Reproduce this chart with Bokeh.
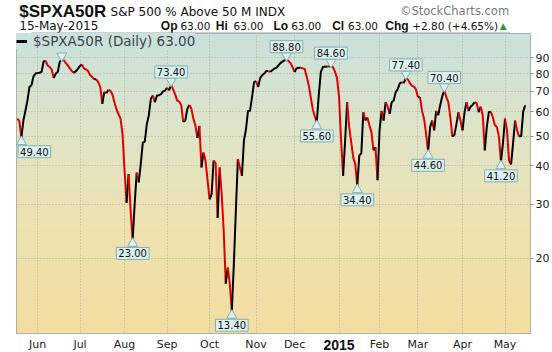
import numpy as np
from bokeh.plotting import figure
from bokeh.layouts import column
from bokeh.models import (FixedTicker, Range1d, BoxAnnotation, Legend, LegendItem,
                          NumeralTickFormatter)
from bokeh.embed import file_html
from bokeh.resources import INLINE
from bokeh.core.properties import value

# ---------------- data ----------------
# daily values of $SPXA50R; trading-day index 0 = 2 Jun 2014, first value is index -10
first_day = -10
pct_above_50 = [
    57, 56, 49.4, 56.2, 60.4, 65.3, 72.3, 73.3, 78.3, 80,
    80.3, 80.5, 81, 87.6, 88, 85, 84, 82.5, 77.3, 80,
    81, 87.6, 88.6, 88.4, 86.5, 85, 83, 81.5, 80.3, 81.5,
    83, 84.8, 85.5, 83, 82.5, 81.5, 79, 78, 76.6, 76.6,
    75, 72.3, 63.7, 69.7, 69, 70.8, 70.3, 68.4, 64.5, 61.2,
    59, 57, 50.8, 38.6, 30.3, 37.6, 28.5, 23.0, 30, 38,
    35.3, 40.5, 47.5, 48, 54.7, 58.5, 66.2, 67.8, 64.5, 67.8,
    68, 68.5, 70, 70.4, 71.8, 70.5, 73.4, 71, 68.4, 65.3,
    64.8, 63.2, 55.6, 56.2, 61.2, 63.2, 61.5, 57, 54.2, 49.3,
    54, 39.5, 44.2, 41.6, 36, 31.1, 32.3, 41.6, 40.8, 27,
    39.5, 32.3, 24.6, 16.5, 18.6, 16.5, 13.4, 19.1, 28.6, 42.1,
    39.5, 37.1, 48.4, 52.6, 60.4, 60.5, 67, 75, 75.5, 72.3,
    77.3, 79, 80, 81.5, 81.5, 81, 82, 83, 83.5, 85,
    86.5, 87.5, 88.3, 88.8, 88, 86.5, 84, 81, 83.2, 83.5,
    83.5, 83.2, 82.8, 78.3, 73.3, 67, 61.2, 58, 55.6, 68.4,
    81, 84, 84.2, 84.4, 84.3, 84.6, 84.0, 81, 77.3, 67,
    48.4, 37.1, 48.4, 64.5, 53.5, 47.8, 42.6, 40.5, 34.4, 43.2,
    44, 59.8, 56.2, 57.5, 54.2, 51.5, 44.9, 46, 35.9, 52.2,
    60.4, 56.2, 64.5, 62.5, 59.1, 64.5, 65.3, 69.7, 71.2, 74.3,
    75, 74.5, 77.4, 76.5, 74.5, 73, 72.5, 71, 67, 67,
    60.4, 57, 50.8, 44.6, 53.5, 56.2, 52.2, 60.4, 58.5, 63.2,
    67.5, 70.4, 67, 64.5, 57.6, 49.8, 50.5, 54.7, 59.8, 56.2,
    52.2, 59.8, 64.5, 60.4, 62.4, 63.2, 64.5, 64.0, 59.8, 62.4,
    58.5, 44.9, 53.5, 59.8, 60, 57.6, 54.2, 53.5, 49.8, 41.2,
    47.5, 57, 52.2, 41.6, 40.4, 47.5, 56.2, 52.2, 49.8, 50, 60.2, 63.0,
]
days = list(range(first_day, first_day + len(pct_above_50)))

month_start_days = [0, 21, 43, 64, 85, 108, 127, 149, 169, 188, 210, 231]
month_labels = ["Jun", "Jul", "Aug", "Sep", "Oct", "Nov", "Dec", "2015", "Feb", "Mar", "Apr", "May"]
y_ticks = [20, 30, 40, 50, 60, 70, 80, 90]

low_marks = [-8, 47, 96, 138, 158, 193, 229]
high_marks = [66, 123, 145, 182, 201]
hidden_high = [12]

# header texts: (text, x, middle y, size, bold, colour, align, font)
SANS, ARIAL = "DejaVu Sans", "Liberation Sans"
header_items = [
    ("$SPXA50R", 3, 10.5, "17px", True, "#111111", "left", ARIAL),
    ("S&P 500 % Above 50 M  INDX", 101, 11, "12px", False, "#111111", "left", SANS),
    ("\u00a9StockCharts.com", 529, 10.5, "11.5px", False, "#7a7a7a", "right", SANS),
    ("15-May-2015", 3, 25.5, "12px", False, "#111111", "left", SANS),
    ("Op", 155, 25, "12px", True, "#111111", "left", ARIAL),
    ("63.00", 176, 25.5, "10.5px", False, "#111111", "left", SANS),
    ("Hi", 214, 25, "12px", True, "#111111", "left", ARIAL),
    ("63.00", 233, 25.5, "10.5px", False, "#111111", "left", SANS),
    ("Lo", 276, 25, "12px", True, "#111111", "left", ARIAL),
    ("63.00", 295, 25.5, "10.5px", False, "#111111", "left", SANS),
    ("Cl", 339, 25, "12px", True, "#111111", "left", ARIAL),
    ("63.00", 356, 25.5, "10.5px", False, "#111111", "left", SANS),
    ("Chg", 396, 25, "12px", True, "#111111", "left", ARIAL),
    ("+2.80 (+4.65%)", 425, 25.5, "10.5px", False, "#111111", "left", SANS),
    ("\u25b2", 519, 25, "9px", False, "#2e9a3a", "left", SANS),
]

# ---------------- layout ----------------
W = 552
HEAD_H, MAIN_H, FOOT_H = 33, 301, 18
FL, FR = 16, 530
Y0, Y1 = 11.34, 108.1
X0, X1 = -10.4, 243.6
PX_PER_DEC = 300 / np.log10(Y1 / Y0)
FRAME_LINE = "#a0a0a0"


def bare(fig):
    fig.outline_line_color = None
    fig.xgrid.visible = False
    fig.ygrid.visible = False
    return fig


# header strip
head = bare(figure(width=W, height=HEAD_H, output_backend="svg", toolbar_location=None,
                   x_range=Range1d(0, W), y_range=Range1d(HEAD_H, 0),
                   x_axis_location=None, y_axis_location=None, min_border=0,
                   background_fill_color="white", border_fill_color="white"))
for txt, x, y, size, bold, col, align, font in header_items:
    head.text([x], [y], text=[txt], text_font=value(font), text_font_size=size,
              text_font_style="bold" if bold else "normal", text_color=col,
              text_align=align, text_baseline="middle")
# top edge of the chart frame
head.segment([FL], [HEAD_H - 0.5], [FR], [HEAD_H - 0.5], line_color=FRAME_LINE, line_width=1)

# main chart
p = figure(width=W, height=MAIN_H, output_backend="svg", toolbar_location=None,
           y_axis_type="log", y_axis_location="right", x_axis_location=None,
           x_range=Range1d(X0, X1), y_range=Range1d(Y0, Y1),
           min_border_left=FL, min_border_right=W - FR, min_border_top=0,
           min_border_bottom=1,
           background_fill_color="#eee0b0", border_fill_color="white")
p.outline_line_color = FRAME_LINE

# gradient background (teal-grey at top to pale wheat at bottom)
stops = [(0.0, (199, 225, 221)), (0.3, (220, 228, 203)), (0.6, (236, 226, 178)), (1.0, (242, 222, 160))]
N = 60
lo, hi = np.log10(Y0), np.log10(Y1)
for k in range(N):
    t = 1 - (k + 0.5) / N
    for j in range(len(stops) - 1):
        if stops[j][0] <= t <= stops[j + 1][0]:
            a, ca = stops[j]; b, cb = stops[j + 1]
            f = (t - a) / (b - a)
            col = tuple(int(round(ca[i] + f * (cb[i] - ca[i]))) for i in range(3))
            break
    p.add_layout(BoxAnnotation(bottom=10 ** (lo + (hi - lo) * k / N),
                               top=10 ** (lo + (hi - lo) * (k + 1) / N),
                               fill_color="#%02x%02x%02x" % col, fill_alpha=1,
                               line_color=None, level="image"))

p.yaxis.ticker = FixedTicker(ticks=y_ticks)
p.yaxis.formatter = NumeralTickFormatter(format="0")
p.yaxis.axis_line_color = None
p.yaxis.major_tick_out = 3
p.yaxis.major_tick_in = 0
p.yaxis.minor_tick_line_color = None
p.yaxis.major_tick_line_color = "#909090"
p.yaxis.major_label_standoff = 2
p.yaxis.major_label_text_font = SANS
p.yaxis.major_label_text_font_size = "11px"
p.yaxis.major_label_text_color = "#222222"

p.xgrid.ticker = FixedTicker(ticks=month_start_days)
p.ygrid.ticker = FixedTicker(ticks=y_ticks)
for g in (p.xgrid, p.ygrid):
    g.grid_line_color = "#a8a898"
    g.grid_line_dash = "1 2"
    g.grid_line_alpha = 0.9

# colour-coded line: black when rising, red when falling
UP, DOWN = "#000000", "#e00000"
xs, ys, cs = [], [], []
cx, cy, cc = [days[0]], [pct_above_50[0]], None
for i in range(1, len(days)):
    c = UP if pct_above_50[i] >= pct_above_50[i - 1] else DOWN
    if cc is None or c == cc:
        cx.append(days[i]); cy.append(pct_above_50[i]); cc = c
    else:
        xs.append(cx); ys.append(cy); cs.append(cc)
        cx, cy, cc = [days[i - 1], days[i]], [pct_above_50[i - 1], pct_above_50[i]], c
xs.append(cx); ys.append(cy); cs.append(cc)
p.multi_line(xs, ys, line_color=cs, line_width=2, line_join="round")

# annotation callouts
BOX_FILL, BOX_LINE = "#dcf2ef", "#86aeb4"
off = 10 ** (4.0 / PX_PER_DEC)
hx = high_marks + hidden_high
p.scatter(hx, [pct_above_50[d - first_day] * off for d in hx],
          marker="inverted_triangle", size=10, fill_color=BOX_FILL, line_color=BOX_LINE)
p.scatter(low_marks, [pct_above_50[d - first_day] / off for d in low_marks],
          marker="triangle", size=10, fill_color=BOX_FILL, line_color=BOX_LINE)
p.text(high_marks, [pct_above_50[d - first_day] for d in high_marks],
       text=["%.2f" % pct_above_50[d - first_day] for d in high_marks],
       anchor="bottom_center", y_offset=-7, padding=2,
       text_font=value(SANS), text_font_size="10px", text_color="#111111",
       background_fill_color=BOX_FILL, border_line_color=BOX_LINE)
p.text(low_marks, [pct_above_50[d - first_day] for d in low_marks],
       text=["%.2f" % pct_above_50[d - first_day] for d in low_marks],
       anchor="top_center", y_offset=8, x_offset=[13 if d < 0 else 0 for d in low_marks],
       padding=2,
       text_font=value(SANS), text_font_size="10px", text_color="#111111",
       background_fill_color=BOX_FILL, border_line_color=BOX_LINE)

# legend (its swatch comes from a hidden black copy of the series)
swatch = p.line(days, pct_above_50, line_color="black", line_width=3, visible=False)
legend = Legend(items=[LegendItem(label=value("$SPXA50R (Daily) %.2f" % pct_above_50[-1]),
                                  renderers=[swatch])],
                location="top_left", margin=0, padding=3, glyph_width=11, glyph_height=14,
                label_height=14, label_standoff=6, spacing=0,
                label_text_font=SANS, label_text_font_size="13.5px",
                background_fill_color="#c9e1dc", background_fill_alpha=1,
                inactive_fill_alpha=0, border_line_color=None)
p.add_layout(legend)

# footer strip with month labels (shares x range)
foot = bare(figure(width=W, height=FOOT_H, output_backend="svg", toolbar_location=None,
                   x_range=p.x_range, y_range=Range1d(FOOT_H, 0),
                   x_axis_location=None, y_axis_location=None,
                   min_border_left=FL, min_border_right=W - FR, min_border_top=0,
                   min_border_bottom=0,
                   background_fill_color="white", border_fill_color="white"))
reg = [(d, l) for d, l in zip(month_start_days, month_labels) if l != "2015"]
yr = [(d, l) for d, l in zip(month_start_days, month_labels) if l == "2015"]
foot.text([d for d, _ in reg], [10] * len(reg), text=[l for _, l in reg],
          text_font=value(SANS), text_font_size="11px", text_color="#222222",
          text_align="center", text_baseline="middle")
foot.text([d for d, _ in yr], [10] * len(yr), text=[l for _, l in yr],
          text_font=value(ARIAL), text_font_size="14px", text_font_style="bold",
          text_color="#111111", text_align="center", text_baseline="middle")

layout = column(head, p, foot, spacing=0)
open("out.html", "w").write(file_html(layout, INLINE))
